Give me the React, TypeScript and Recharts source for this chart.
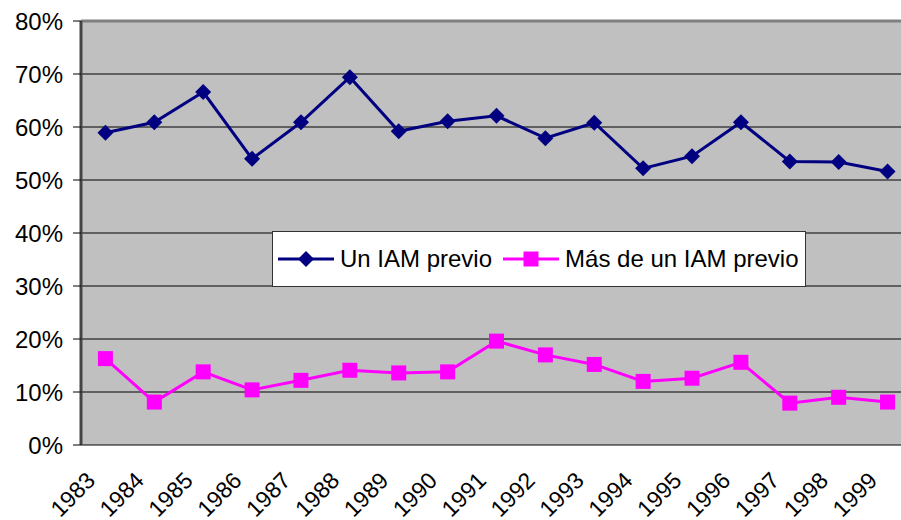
import {
  CartesianGrid,
  Legend,
  Line,
  LineChart,
  ReferenceLine,
  XAxis,
  YAxis,
} from "recharts";

const years = [1983, 1984, 1985, 1986, 1987, 1988, 1989, 1990, 1991, 1992, 1993, 1994, 1995, 1996, 1997, 1998, 1999];
const unIamPrevio = [58.9, 60.9, 66.6, 54.0, 60.9, 69.4, 59.2, 61.1, 62.1, 57.9, 60.8, 52.2, 54.5, 60.9, 53.5, 53.4, 51.6];
const masDeUnIamPrevio = [16.3, 8.1, 13.8, 10.4, 12.2, 14.1, 13.6, 13.8, 19.6, 17.0, 15.2, 12.0, 12.6, 15.6, 7.9, 9.0, 8.1];
const yTicks = [0, 10, 20, 30, 40, 50, 60, 70, 80];

const data = years.map((year, i) => ({
  year,
  un: unIamPrevio[i],
  mas: masDeUnIamPrevio[i],
}));

const boundaryTicks = [...years.map((y) => y - 0.5), years[years.length - 1] + 0.5];

const FONT = '"Liberation Sans", Arial, sans-serif';
const NAVY = '#000080';
const MAGENTA = '#FF00FF';

const Diamond = (props: any) => {
  const { cx, cy } = props;
  if (cx == null || cy == null) return null;
  return <path d={`M${cx},${cy - 8} L${cx + 8},${cy} L${cx},${cy + 8} L${cx - 8},${cy} Z`} fill={NAVY} />;
};

const Square = (props: any) => {
  const { cx, cy } = props;
  if (cx == null || cy == null) return null;
  return <rect x={cx - 7.5} y={cy - 7.5} width={15} height={15} fill={MAGENTA} />;
};

const YearTick = (props: any) => {
  const { x, y, payload } = props;
  const tx = x - 9;
  const ty = y + 37;
  return (
    <text
      x={tx}
      y={ty}
      transform={`rotate(-45 ${tx} ${ty})`}
      textAnchor="end"
      fontSize={23}
      fontFamily={FONT}
      fill="#000"
    >
      {payload.value}
    </text>
  );
};

const NoLabel = () => <g />;

const renderLegend = () => (
  <div
    style={{
      boxSizing: 'border-box',
      width: 534,
      height: 56,
      background: '#fff',
      border: '1px solid #333',
      display: 'flex',
      alignItems: 'center',
      fontFamily: FONT,
      fontSize: 24,
      color: '#000',
      paddingLeft: 5,
      whiteSpace: 'nowrap',
    }}
  >
    <svg width={56} height={20} style={{ marginRight: 6, flexShrink: 0 }}>
      <line x1={0} y1={10} x2={56} y2={10} stroke={NAVY} strokeWidth={3} />
      <path d="M28,2 L36,10 L28,18 L20,10 Z" fill={NAVY} />
    </svg>
    <span style={{ marginRight: 11 }}>Un IAM previo</span>
    <svg width={56} height={20} style={{ marginRight: 6, flexShrink: 0 }}>
      <line x1={0} y1={10} x2={56} y2={10} stroke={MAGENTA} strokeWidth={3} />
      <rect x={20.5} y={2.5} width={15} height={15} fill={MAGENTA} />
    </svg>
    <span>Más de un IAM previo</span>
  </div>
);

export default function App() {
  return (
    <div style={{ position: 'absolute', left: 0, top: 0, width: 901, height: 520, overflow: 'hidden', background: '#fff' }}>
      <LineChart width={912} height={520} data={data} margin={{ top: 21, right: 0, bottom: 0, left: 0 }}>
        <CartesianGrid vertical={false} stroke="#000" fill="#C0C0C0" strokeOpacity={1} />
        <ReferenceLine y={80} stroke="#808080" strokeWidth={3} />
        <XAxis
          dataKey="year"
          type="number"
          domain={[years[0] - 0.5, years[years.length - 1] + 0.5]}
          ticks={boundaryTicks}
          interval={0}
          height={0}
          tick={<NoLabel />}
          tickSize={8}
          tickLine={{ stroke: '#000' }}
          axisLine={{ stroke: '#444', strokeWidth: 3 }}
        />
        <XAxis
          xAxisId="lbl"
          dataKey="year"
          type="number"
          domain={[years[0] - 0.5, years[years.length - 1] + 0.5]}
          ticks={years}
          interval={0}
          height={75}
          tickSize={0}
          tickMargin={0}
          tickLine={false}
          axisLine={false}
          tick={<YearTick />}
        />
        <YAxis
          domain={[0, 80]}
          ticks={yTicks}
          interval={0}
          width={81}
          tickFormatter={(v: number) => `${v}%`}
          tick={{ fontSize: 24, fontFamily: FONT, fill: '#000' }}
          tickSize={8}
          tickMargin={10}
          tickLine={{ stroke: '#000' }}
          axisLine={{ stroke: '#444', strokeWidth: 3 }}
        />
        <Legend
          layout="horizontal"
          verticalAlign="middle"
          content={renderLegend}
          wrapperStyle={{ left: 272, top: 231, width: 534, height: 56 }}
        />
        <Line
          dataKey="un"
          stroke={NAVY}
          strokeWidth={3}
          dot={<Diamond />}
          activeDot={false}
          isAnimationActive={false}
        />
        <Line
          dataKey="mas"
          stroke={MAGENTA}
          strokeWidth={3}
          dot={<Square />}
          activeDot={false}
          isAnimationActive={false}
        />
      </LineChart>
    </div>
  );
}
